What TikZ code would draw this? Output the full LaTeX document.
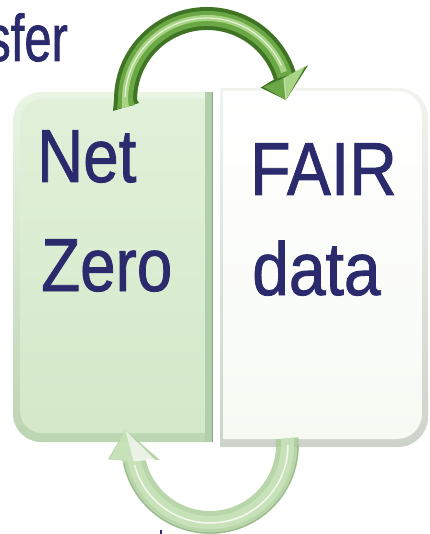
\documentclass[tikz,border=0pt]{standalone}
\usepackage{fontspec}
\setmainfont{Liberation Sans}
\newfontfamily\heavysans[FakeBold=1.2]{Liberation Sans}
\definecolor{navy}{HTML}{2B2A6C}
\definecolor{gdark}{HTML}{3F7424}
\definecolor{gmid}{HTML}{6BA845}
\definecolor{glight}{HTML}{A9D485}
\definecolor{palebase}{HTML}{A8CC95}
\definecolor{paleband}{HTML}{CBE5BC}
\definecolor{paleedge}{HTML}{8FAF85}
\definecolor{leftrimtop}{HTML}{EAF5E4}
\definecolor{leftrimbot}{HTML}{BCD5B2}
\definecolor{leftrim}{HTML}{B3CEAB}
\definecolor{leftseam}{HTML}{8CA687}
\definecolor{lefttop}{HTML}{E1F0D9}
\definecolor{leftbot}{HTML}{D3E9C9}
\definecolor{rightrimtop}{HTML}{F1F3EF}
\definecolor{rightrimbot}{HTML}{CDD3CA}
\definecolor{rightbot}{HTML}{F7FAF3}
\tikzset{
  bigword/.style={text=navy, inner sep=0pt, font=\heavysans\fontsize{75}{75}\selectfont},
}
\newcommand{\squeeze}[2]{\scalebox{#1}[1]{#2}}
\begin{document}
\begin{tikzpicture}[x=1pt,y=-1pt]
\useasboundingbox (0,0) rectangle (429,534);
\fill[white] (0,0) rectangle (429,534);

% title fragment
\node[text=navy, inner sep=0pt, font=\heavysans\fontsize{66}{66}\selectfont, anchor=base east]
  (title) at (68,61) {\squeeze{0.74}{sfer}};

% left box: bevelled light green panel
\shade[top color=leftrimtop, bottom color=leftrimbot]
  (212,92) [rounded corners=28pt] -- (13,92) -- (13,442) [sharp corners] -- (212,442) -- cycle;
\shade[top color=lefttop, bottom color=leftbot]
  (205,99) [rounded corners=22pt] -- (20,99) -- (20,433) [sharp corners] -- (205,433) -- cycle;
\fill[leftrim] (205,92) rectangle (212,442);
\draw[leftseam, line width=1pt] (212.5,92) -- (212.5,442);

% right box: bevelled white panel
\shade[top color=rightrimtop, bottom color=rightrimbot]
  (220,88) [rounded corners=30pt] -- (428,88) -- (428,447) [sharp corners] -- (220,447) -- cycle;
\shade[top color=white, bottom color=rightbot]
  (223,91) [rounded corners=25pt] -- (422,91) -- (422,439) [sharp corners] -- (223,439) -- cycle;

% texts
\node[bigword, anchor=base west] (net) at (37,182) {\squeeze{0.85}{Net}};
\node[bigword, anchor=base west] (zero) at (41,291) {\squeeze{0.85}{Zero}};
\node[bigword, anchor=base west] (fair) at (250,195) {\squeeze{0.88}{FAIR}};
\node[bigword, anchor=base west] (data) at (252,295) {\squeeze{0.88}{data}};

% upper curved arrow (from left panel to right panel)
\begin{scope}[shift={(207,100)}]
  \fill[gdark] (-94,11) -- (180:93) arc[start angle=180,end angle=343,radius=93]
    -- (341:107) -- (0:79) -- (347:55) -- (343:70)
    arc[start angle=343,end angle=180,radius=70] -- (-68,3) -- cycle;
  \fill[gmid] (-90,9) -- (180:89) arc[start angle=180,end angle=343,radius=89]
    -- (343:74) arc[start angle=343,end angle=180,radius=74] -- (-72,5) -- cycle;
  \fill[glight] (-85,8) -- (180:85) arc[start angle=180,end angle=340,radius=85]
    -- (340:79) arc[start angle=340,end angle=180,radius=79] -- (-78,7) -- cycle;
  \draw[white, opacity=0.7, line width=1.2pt] (182:82) arc[start angle=182,end angle=335,radius=82];
  % arrow head facets
  \fill[glight] (344:80) -- (341:104) -- (0:79) -- cycle;
  \fill[gmid] (344:80) -- (347:58) -- (0:79) -- cycle;
  \draw[white, opacity=0.6, line width=1pt] (344:80) -- (0:79);
\end{scope}

% lower curved arrow (from right panel back to left panel)
\begin{scope}[shift={(210,445)}, opacity=0.8]
  \fill[palebase] (355:89) arc[start angle=-5,end angle=170,radius=89]
    -- (172:103) -- (190:86) -- (163:52) -- (168:66)
    arc[start angle=168,end angle=-5,radius=66] -- cycle;
  \fill[paleband] (355:84) arc[start angle=-5,end angle=170,radius=84]
    -- (168:71) arc[start angle=168,end angle=-5,radius=71] -- cycle;
  \draw[white, line width=1.5pt] (0:78) arc[start angle=0,end angle=165,radius=78];
  \draw[paleedge, line width=1pt] (0:88) arc[start angle=0,end angle=168,radius=88];
  \fill[paleband] (172:101) -- (190:86) -- (168:78) -- cycle;
  \fill[white, opacity=0.7] (168:78) -- (190:86) -- (165:57) -- cycle;
\end{scope}

% cut-off character at the lower edge
\fill[navy] (159.5,530) rectangle (162,534);
\end{tikzpicture}
\end{document}
